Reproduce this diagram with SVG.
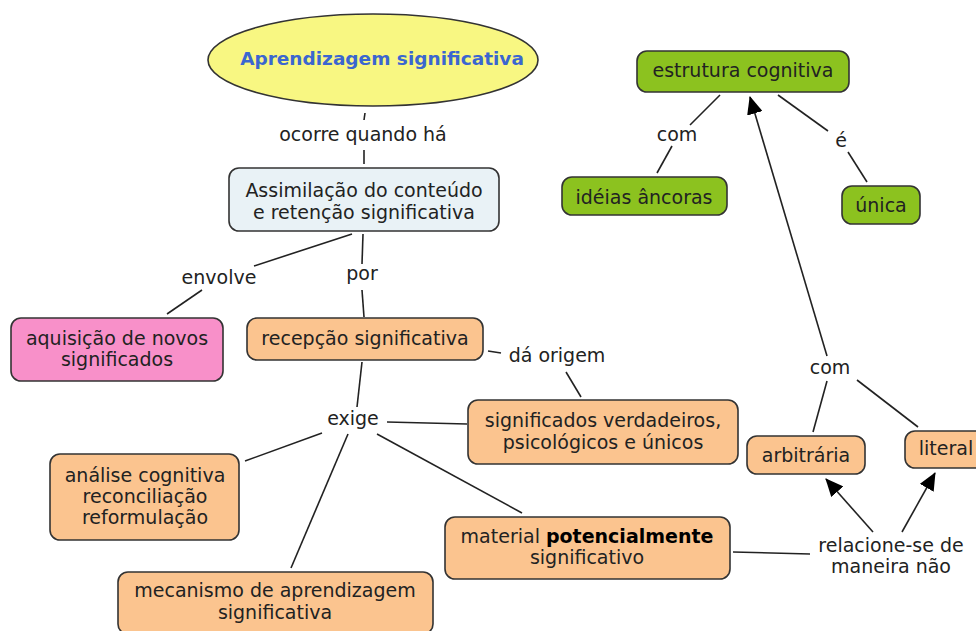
<svg xmlns="http://www.w3.org/2000/svg" width="976" height="631" viewBox="0 0 976 631">
<style>
text{font-family:"DejaVu Sans","Verdana",sans-serif;font-size:19px;fill:#222;text-anchor:middle}
.n{stroke:#333;stroke-width:1.6}
.o{fill:#fbc48f}
.g{fill:#8cc21f}
.c line{stroke:#222;stroke-width:1.6}
</style>
<defs>
<marker id="ah" viewBox="0 0 18 16" refX="17" refY="8" markerWidth="18" markerHeight="16" markerUnits="userSpaceOnUse" orient="auto">
<path d="M0,0 L18,8 L0,16 Z" fill="#000"/>
</marker>
</defs>
<rect width="976" height="631" fill="#fff"/>
<g class="c" id="connectors">
<line x1="365" y1="113" x2="364" y2="120"/>
<line x1="364" y1="150" x2="364" y2="164"/>
<line x1="352" y1="234" x2="254" y2="266"/>
<line x1="202" y1="290" x2="167" y2="314"/>
<line x1="363" y1="234" x2="362" y2="264"/>
<line x1="362" y1="290" x2="364" y2="317"/>
<line x1="362" y1="362" x2="357" y2="407"/>
<line x1="488" y1="351" x2="501" y2="353"/>
<line x1="566" y1="372" x2="581" y2="397"/>
<line x1="387" y1="422" x2="467" y2="424"/>
<line x1="322" y1="433" x2="245" y2="461"/>
<line x1="348" y1="434" x2="291" y2="568"/>
<line x1="377" y1="434" x2="522" y2="513"/>
<line x1="733" y1="552" x2="810" y2="554"/>
<line x1="873" y1="532" x2="826" y2="479" marker-end="url(#ah)"/>
<line x1="902" y1="532" x2="935" y2="473" marker-end="url(#ah)"/>
<line x1="813" y1="432" x2="827" y2="381"/>
<line x1="857" y1="380" x2="918" y2="427"/>
<line x1="827" y1="356" x2="750" y2="97" marker-end="url(#ah)"/>
<line x1="720" y1="95" x2="690" y2="125"/>
<line x1="672" y1="146" x2="657" y2="173"/>
<line x1="778" y1="95" x2="828" y2="131"/>
<line x1="848" y1="152" x2="867" y2="182"/>
</g>
<g id="labels">
<text x="363" y="141">ocorre quando há</text>
<text x="219" y="284">envolve</text>
<text x="362" y="280">por</text>
<text x="353" y="425">exige</text>
<text x="557" y="362">dá origem</text>
<text x="830" y="374">com</text>
<text x="677" y="141">com</text>
<text x="841" y="147">é</text>
<text x="891" y="552">relacione-se de</text>
<text x="891" y="573">maneira não</text>
</g>
<g id="n-aprendizagem">
<ellipse class="n" cx="373" cy="60" rx="165" ry="46" fill="#f8f782"/>
<text x="382" y="65" style="font-weight:bold;fill:#3b66d0;font-size:18.5px">Aprendizagem significativa</text>
</g>
<g id="n-assimilacao">
<rect class="n" x="229" y="168" width="270" height="63" rx="10" fill="#e9f2f6"/>
<text x="364" y="197">Assimilação do conteúdo</text>
<text x="364" y="219">e retenção significativa</text>
</g>
<g id="n-aquisicao">
<rect class="n" x="11" y="318" width="212" height="63" rx="10" fill="#f890c9"/>
<text x="117" y="345">aquisição de novos</text>
<text x="117" y="366">significados</text>
</g>
<g id="n-recepcao">
<rect class="n o" x="247" y="318" width="236" height="42" rx="10"/>
<text x="365" y="345">recepção significativa</text>
</g>
<g id="n-significados">
<rect class="n o" x="468" y="400" width="270" height="64" rx="10"/>
<text x="603" y="427">significados verdadeiros,</text>
<text x="603" y="449">psicológicos e únicos</text>
</g>
<g id="n-analise">
<rect class="n o" x="50" y="454" width="189" height="86" rx="10"/>
<text x="145" y="482">análise cognitiva</text>
<text x="145" y="503">reconciliação</text>
<text x="145" y="524">reformulação</text>
</g>
<g id="n-mecanismo">
<rect class="n o" x="118" y="572" width="315" height="62" rx="10"/>
<text x="275" y="597">mecanismo de aprendizagem</text>
<text x="275" y="619">significativa</text>
</g>
<g id="n-material">
<rect class="n o" x="445" y="517" width="285" height="62" rx="10"/>
<text x="587" y="543">material <tspan style="font-weight:bold;fill:#000">potencialmente</tspan></text>
<text x="587" y="564">significativo</text>
</g>
<g id="n-arbitraria">
<rect class="n o" x="747" y="436" width="118" height="38" rx="10"/>
<text x="806" y="462">arbitrária</text>
</g>
<g id="n-literal">
<rect class="n o" x="905" y="431" width="90" height="37" rx="10"/>
<text x="946" y="455">literal</text>
</g>
<g id="n-estrutura">
<rect class="n g" x="637" y="51" width="212" height="41" rx="10"/>
<text x="743" y="77">estrutura cognitiva</text>
</g>
<g id="n-ideias">
<rect class="n g" x="562" y="177" width="165" height="38" rx="10"/>
<text x="644" y="204">idéias âncoras</text>
</g>
<g id="n-unica">
<rect class="n g" x="842" y="186" width="78" height="38" rx="10"/>
<text x="881" y="212">única</text>
</g>
</svg>
